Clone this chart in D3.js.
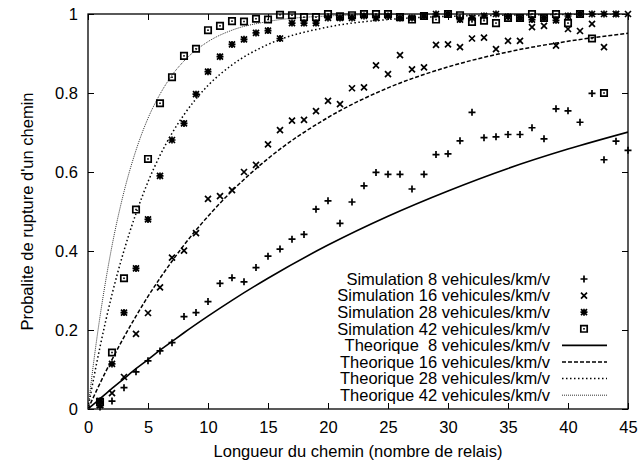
<!DOCTYPE html>
<html>
<head>
<meta charset="utf-8">
<script src="https://cdn.jsdelivr.net/npm/d3@7"></script>
<style>
  body { margin: 0; background: #fff; }
  svg text { font-family: "Liberation Sans", Arial, Helvetica, sans-serif; font-size: 16.5px; fill: #000; }
</style>
</head>
<body>
<svg></svg>
<script>
const margin = { top: 14, right: 11, bottom: 54, left: 88 };
const [svgWidth, svgHeight] = [639, 463];
const [chartWidth, chartHeight] = [svgWidth - margin.left - margin.right, svgHeight - margin.top - margin.bottom];

// simulation: valeur pour une longueur de 1, 2, 3, ...
const sim8 = [0.005, 0.02, 0.054, 0.094, 0.122, 0.147, 0.168, 0.234, 0.244, 0.272,
    0.318, 0.332, 0.322, 0.358, 0.387, 0.405, 0.43, 0.442, 0.506, 0.527,
    0.47, 0.524, 0.565, 0.599, 0.594, 0.594, 0.557, 0.594, 0.644, 0.646,
    0.679, 0.751, 0.687, 0.689, 0.695, 0.695, 0.712, 0.684, 0.76, 0.755,
    0.726, 0.799, 0.631, 0.678, 0.655];
const sim16 = [0.01, 0.04, 0.081, 0.19, 0.243, 0.308, 0.383, 0.401, 0.445, 0.532,
    0.539, 0.554, 0.6, 0.618, 0.67, 0.706, 0.73, 0.732, 0.754, 0.78,
    0.772, 0.812, 0.814, 0.87, 0.848, 0.896, 0.86, 0.865, 0.922, 0.923,
    0.916, 0.938, 0.94, 0.911, 0.932, 0.932, 0.967, 0.97, 0.92, 0.962,
    0.957, 0.975, 0.916, 1.0, 1.0];
const sim28 = [0.02, 0.114, 0.244, 0.356, 0.48, 0.59, 0.681, 0.723, 0.797, 0.854,
    0.892, 0.923, 0.936, 0.952, 0.958, 0.938, 0.977, 0.977, 0.977, 0.99,
    0.99, 0.99, 0.995, 0.99, 0.995, 0.99, 0.99, 0.995, 1.0, 1.0,
    0.986, 0.99, 0.995, 1.0, 0.993, 0.99, 0.986, 0.99, 0.984, 0.995,
    1.0, 1.0, 1.0, 1.0];
const sim42 = [0.018, 0.143, 0.331, 0.505, 0.633, 0.774, 0.84, 0.894, 0.912, 0.959,
    0.97, 0.982, 0.981, 0.988, 0.986, 0.998, 0.997, 0.992, 0.992, 1.0,
    0.994, 0.997, 1.0, 1.0, 1.0, 0.992, 0.986, 0.995, 0.986, 1.0,
    0.997, 0.98, 0.983, 0.977, 0.99, 0.99, 1.0, 0.99, 1.0, 0.977,
    1.0, 0.938, 0.8];

// courbes theoriques
const theoX = [0, 0.5, 1, 1.5, 2, 3, 4, 5, 6, 7, 8, 10, 12, 15, 20, 25, 30, 35, 40, 45];
const theo8 = [0, 0.013, 0.026, 0.039, 0.052, 0.077, 0.102, 0.125, 0.149, 0.171, 0.193, 0.235, 0.275, 0.331, 0.415, 0.488, 0.552, 0.609, 0.658, 0.701];
const theo16 = [0, 0.033, 0.065, 0.096, 0.125, 0.182, 0.235, 0.285, 0.331, 0.374, 0.415, 0.488, 0.552, 0.634, 0.738, 0.813, 0.866, 0.904, 0.931, 0.951];
const theo28 = [0, 0.082, 0.157, 0.226, 0.29, 0.401, 0.495, 0.575, 0.642, 0.698, 0.745, 0.819, 0.871, 0.923, 0.967, 0.986, 0.994, 0.997, 0.999, 1.0];
const theo42 = [0, 0.125, 0.234, 0.329, 0.413, 0.55, 0.655, 0.736, 0.797, 0.845, 0.881, 0.93, 0.959, 0.981, 0.995, 0.999, 1.0, 1.0, 1.0, 1.0];

const xTicks = [0, 5, 10, 15, 20, 25, 30, 35, 40, 45];
const yTicks = [0, 0.2, 0.4, 0.6, 0.8, 1];
const yTickLabels = ["0", "0.2", "0.4", "0.6", "0.8", "1"];

const simLabels = ["Simulation 8 vehicules/km/v", "Simulation 16 vehicules/km/v", "Simulation 28 vehicules/km/v", "Simulation 42 vehicules/km/v"];
const theoLabels = ["Theorique  8 vehicules/km/v", "Theorique 16 vehicules/km/v", "Theorique 28 vehicules/km/v", "Theorique 42 vehicules/km/v"];

const xScale = d3.scaleLinear().domain([0, 45]).range([0, chartWidth]);
const yScale = d3.scaleLinear().domain([0, 1]).range([chartHeight, 0]);

const svg = d3.select("svg")
    .attr("width", svgWidth)
    .attr("height", svgHeight);

const g = svg.append("g")
    .attr("transform", `translate(${[margin.left, margin.top]})`);

// axes (ticks vers l'interieur, aussi en haut et a droite)
const xAxis = g.append("g")
    .attr("transform", `translate(0,${chartHeight})`)
    .call(d3.axisBottom(xScale).tickValues(xTicks).tickSize(-6).tickSizeOuter(0).tickPadding(12));
const yAxis = g.append("g")
    .call(d3.axisLeft(yScale).tickValues(yTicks).tickSize(-6).tickSizeOuter(0).tickPadding(10)
        .tickFormat((d, i) => yTickLabels[i]));
g.append("g")
    .call(d3.axisTop(xScale).tickValues(xTicks).tickSize(-6).tickSizeOuter(0).tickFormat(""));
g.append("g")
    .attr("transform", `translate(${chartWidth},0)`)
    .call(d3.axisRight(yScale).tickValues(yTicks).tickSize(-6).tickSizeOuter(0).tickFormat(""));

g.selectAll(".domain").remove();
g.selectAll(".tick line").attr("stroke", "#000").attr("stroke-width", 1);
g.selectAll(".tick text").attr("font-size", null).attr("font-family", null);
xAxis.selectAll("text").attr("dy", "0.71em");

g.append("rect")
    .attr("width", chartWidth)
    .attr("height", chartHeight)
    .attr("fill", "none")
    .attr("stroke", "#000")
    .attr("stroke-width", 1.3);

// titres des axes
svg.append("text")
    .attr("x", margin.left + chartWidth / 2)
    .attr("y", 457)
    .attr("text-anchor", "middle")
    .text("Longueur du chemin (nombre de relais)");

svg.append("text")
    .attr("transform", `translate(33,${margin.top + chartHeight / 2}) rotate(-90)`)
    .attr("text-anchor", "middle")
    .text("Probalite de rupture d'un chemin");

// styles des courbes
const lineStyles = [
    { dash: null, width: 1.6, color: "#000" },
    { dash: "4,2", width: 1.5, color: "#000" },
    { dash: "1.5,2.5", width: 1.5, color: "#000" },
    { dash: "1,1", width: 1, color: "#333" }
];

const line = d3.line()
    .x(d => xScale(d.x))
    .y(d => yScale(d.y))
    .curve(d3.curveMonotoneX);

g.append("clipPath").attr("id", "clip")
    .append("rect").attr("width", chartWidth).attr("height", chartHeight);

[theo8, theo16, theo28, theo42].forEach((vals, k) => {
    g.append("path")
        .datum(vals.map((v, i) => ({ x: theoX[i], y: v })))
        .attr("clip-path", "url(#clip)")
        .attr("fill", "none")
        .attr("stroke", lineStyles[k].color)
        .attr("stroke-width", lineStyles[k].width)
        .attr("stroke-dasharray", lineStyles[k].dash)
        .attr("d", line);
});

// marqueurs type gnuplot
const markers = [
    { path: "M-3.5,0H3.5M0,-3.5V3.5", dot: false },
    { path: "M-3,-3L3,3M-3,3L3,-3", dot: false },
    { path: "M-3.5,0H3.5M0,-3.5V3.5M-3,-3L3,3M-3,3L3,-3", dot: false },
    { path: "M-3.2,-3.2H3.2V3.2H-3.2Z", dot: true }
];

function drawMarker(sel, k) {
    sel.append("path")
        .attr("d", markers[k].path)
        .attr("fill", "none")
        .attr("stroke", "#000")
        .attr("stroke-width", 1.7);
    if (markers[k].dot) {
        sel.append("rect")
            .attr("x", -0.8).attr("y", -0.8)
            .attr("width", 1.6).attr("height", 1.6)
            .attr("fill", "#000");
    }
}

[sim8, sim16, sim28, sim42].forEach((vals, k) => {
    g.append("g")
        .selectAll("g")
        .data(vals.map((v, i) => ({ x: i + 1, y: v })))
        .join("g")
        .attr("transform", d => `translate(${[xScale(d.x), yScale(d.y)]})`)
        .each(function () { drawMarker(d3.select(this), k); });
});

// legende
const legendTop = 279 - margin.top;
const rowH = 16.6;
const legend = g.append("g");

simLabels.concat(theoLabels).forEach((label, i) => {
    const y = legendTop + i * rowH;
    legend.append("text")
        .attr("x", 550 - margin.left)
        .attr("y", y)
        .attr("dy", "0.35em")
        .attr("text-anchor", "end")
        .style("white-space", "pre")
        .text(label);
    if (i < 4) {
        const m = legend.append("g").attr("transform", `translate(${[584 - margin.left, y]})`);
        drawMarker(m, i);
    } else {
        const s = lineStyles[i - 4];
        legend.append("line")
            .attr("x1", 562 - margin.left).attr("x2", 607 - margin.left)
            .attr("y1", y).attr("y2", y)
            .attr("stroke", s.color)
            .attr("stroke-width", s.width)
            .attr("stroke-dasharray", s.dash);
    }
});
</script>
</body>
</html>
